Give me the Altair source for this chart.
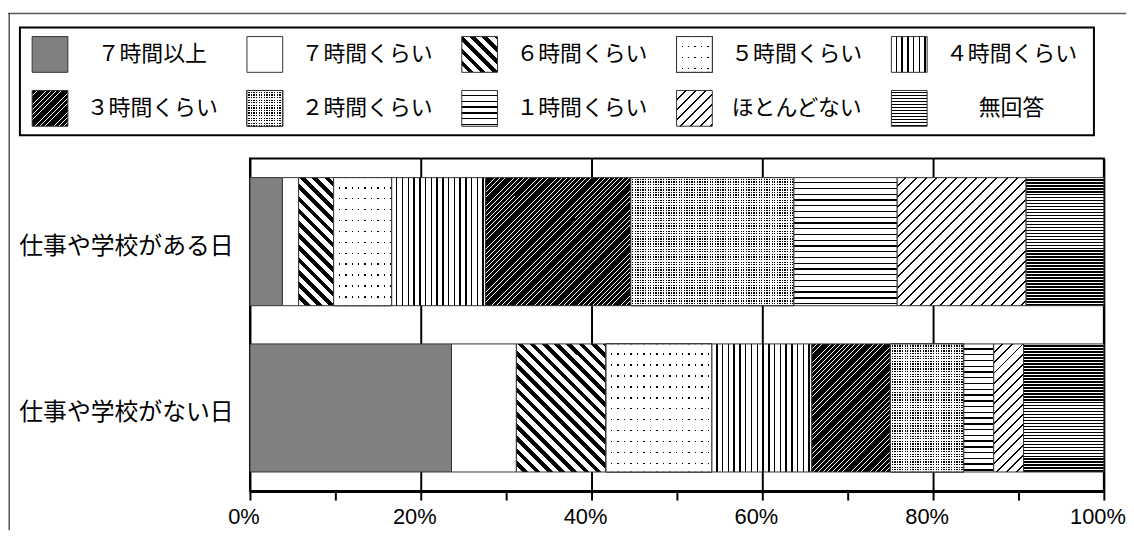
import math
import altair as alt
import pandas as pd

# ---------------- data ----------------
categories = ["７時間以上", "７時間くらい", "６時間くらい", "５時間くらい", "４時間くらい",
              "３時間くらい", "２時間くらい", "１時間くらい", "ほとんどない", "無回答"]
rows = ["仕事や学校がある日", "仕事や学校がない日"]
workday = [3.8, 1.9, 4.1, 6.8, 11.0, 17.0, 19.1, 12.1, 15.1, 9.1]
offday = [23.6, 7.6, 10.5, 12.4, 11.7, 9.2, 8.6, 3.5, 3.5, 9.4]
tick_values = list(range(0, 101, 10))

series = [workday, offday]
main_records = []
for ri, vals in enumerate(series):
    for ci, v in enumerate(vals):
        main_records.append({"row": rows[ri], "row_i": ri, "cat": categories[ci], "cat_i": ci, "value": v})
df_main = pd.DataFrame(main_records)

df_leg = pd.DataFrame({
    "cat": categories,
    "cat_i": list(range(len(categories))),
    "lcol": [i % 5 for i in range(len(categories))],
    "lrow": [i // 5 for i in range(len(categories))],
})

# ---------------- layout / style ----------------
PW, PH = 860, 335          # plot area
PAD = {"left": 243.7, "top": 149.7, "right": 22.3, "bottom": 39.3}
BAR_H = 129.0
SW = 36.0                  # legend swatch side
CLEAR = "rgba(255,255,255,0)"


def stripes(kind, w, h, period, dark, c_dark, c_light):
    if kind == "h":
        L = h
        g = dict(x1=0, y1=0, x2=0, y2=1)
    elif kind == "v":
        L = w
        g = dict(x1=0, y1=0, x2=1, y2=0)
    else:
        k = (w + h) / (w * w + h * h)
        L = (w + h) / math.sqrt(2)
        if kind == "/":
            g = dict(x1=0, y1=0, x2=round(k * w, 4), y2=round(k * h, 4))
        else:
            g = dict(x1=0, y1=1, x2=round(k * w, 4), y2=round(1 - k * h, 4))
    stops = []
    n = max(1, math.ceil(L / period))
    for i in range(n):
        a = min(1.0, i * period / L)
        m = min(1.0, (i * period + period - dark) / L)
        c = min(1.0, (i + 1) * period / L)
        for off, col in ((a, c_light), (m, c_light), (m, c_dark), (c, c_dark)):
            stops.append({"offset": round(off, 4), "color": col})
    stops[-1]["offset"] = 1
    d = {"gradient": "linear", "stops": stops}
    d.update(g)
    return d


def fills_for(ci, w, h):
    if ci == 0:
        return ["#808080"]
    if ci == 1:
        return ["#ffffff"]
    if ci == 2:
        return [stripes("\\", w, h, 8.7, 4.0, "black", "white")]
    if ci == 3:
        return ["black",
                stripes("h", w, h, 11.0, 1.5, CLEAR, "white"),
                stripes("v", w, h, 6.5, 1.5, CLEAR, "white")]
    if ci == 4:
        return [stripes("v", w, h, 5.8, 1.5, "black", "white")]
    if ci == 5:
        return [stripes("/", w, h, 3.4, 2.8, "black", "white")]
    if ci == 6:
        return ["black",
                stripes("h", w, h, 2.6, 1.3, CLEAR, "white"),
                stripes("v", w, h, 2.6, 1.3, CLEAR, "white")]
    if ci == 7:
        return [stripes("h", w, h, 5.8, 1.4, "black", "white")]
    if ci == 8:
        return [stripes("/", w, h, 7.2, 1.4, "black", "white")]
    return [stripes("h", w, h, 3.0, 1.6, "black", "white")]


# ---------------- main bars ----------------
X = alt.X("x0:Q",
          scale=alt.Scale(domain=[0, 100], nice=False, zero=True),
          axis=alt.Axis(values=tick_values, title=None,
                        labelExpr="datum.value % 20 === 0 ? datum.value + '%' : ''",
                        grid=True, gridColor="black", gridWidth=2,
                        gridOpacity={"condition": {"test": "datum.value % 20 === 0", "value": 1}, "value": 0},
                        tickSize=9, tickWidth=2, tickColor="black",
                        domainColor="black", domainWidth=3,
                        labelFont="Liberation Sans", labelFontSize=22, labelColor="black",
                        labelPadding=7, labelOffset=-6.5, labelFlush=False, labelOverlap=False))
Y = alt.Y("row:N", sort=rows,
          scale=alt.Scale(domain=rows, paddingInner=0.23, paddingOuter=0.115),
          axis=alt.Axis(title=None, ticks=False, domain=False,
                        labelFont="Noto Sans CJK JP", labelFontSize=24, labelColor="black",
                        labelPadding=17, labelOffset=5, labelLimit=400))

bar_layers = []
for ri, vals in enumerate(series):
    for ci, v in enumerate(vals):
        w = v / 100.0 * PW
        for f in fills_for(ci, w, BAR_H):
            bar_layers.append(
                alt.Chart()
                .mark_bar(fill=f, stroke="#333333", strokeWidth=1, opacity=1)
                .encode(x=X, x2="x1:Q", y=Y)
                .transform_filter(f"datum.row_i == {ri} && datum.cat_i == {ci}")
            )

bars = (alt.layer(*bar_layers, data=df_main)
        .transform_window(x1="sum(value)", frame=[None, 0], groupby=["row_i"],
                          sort=[alt.SortField("cat_i")])
        .transform_calculate(x0="datum.x1 - datum.value"))

# ---------------- legend ----------------
LX = alt.X("lcol:Q", scale=alt.Scale(domain=[0, 4], range=[-201.4, 664.0]), axis=None)
LY = alt.Y("lrow:Q", scale=alt.Scale(domain=[0, 1], range=[-104.8, -50.5]), axis=None)

deco_df = pd.DataFrame({"k": [0]})
box = alt.Chart(deco_df).mark_rect(stroke="black", strokeWidth=2, fillOpacity=0).encode(
    x=alt.value(-231.7), x2=alt.value(850), y=alt.value(-132), y2=alt.value(-23.4))
frame_top = alt.Chart(deco_df).mark_rule(color="#555555", strokeWidth=1.5).encode(
    x=alt.value(-243.7), x2=alt.value(882.3), y=alt.value(-146))
frame_left = alt.Chart(deco_df).mark_rule(color="#555555", strokeWidth=1.5).encode(
    x=alt.value(-242.5), y=alt.value(-146), y2=alt.value(374.3))

swatches = []
for ci in range(len(categories)):
    for f in fills_for(ci, SW, SW):
        swatches.append(
            alt.Chart(df_leg)
            .mark_square(size=SW * SW, fill=f, stroke="#333333", strokeWidth=1, opacity=1)
            .encode(x=LX, y=LY)
            .transform_filter(f"datum.cat_i == {ci}")
        )

leg_text = alt.Chart(df_leg).mark_text(
    dx=103, fontSize=22, font="Noto Sans CJK JP", align="center", baseline="middle", color="black"
).encode(x=LX, y=LY, text="cat:N")

legend = alt.layer(box, frame_top, frame_left, *swatches, leg_text)

chart = (alt.layer(bars, legend)
         .resolve_scale(x="independent", y="independent")
         .properties(width=PW, height=PH, padding=PAD,
                     autosize=alt.AutoSizeParams(type="none"), background="white")
         .configure_view(stroke="black", strokeWidth=2))

chart.save("out.html", embed_options={"renderer": "svg", "actions": False})
